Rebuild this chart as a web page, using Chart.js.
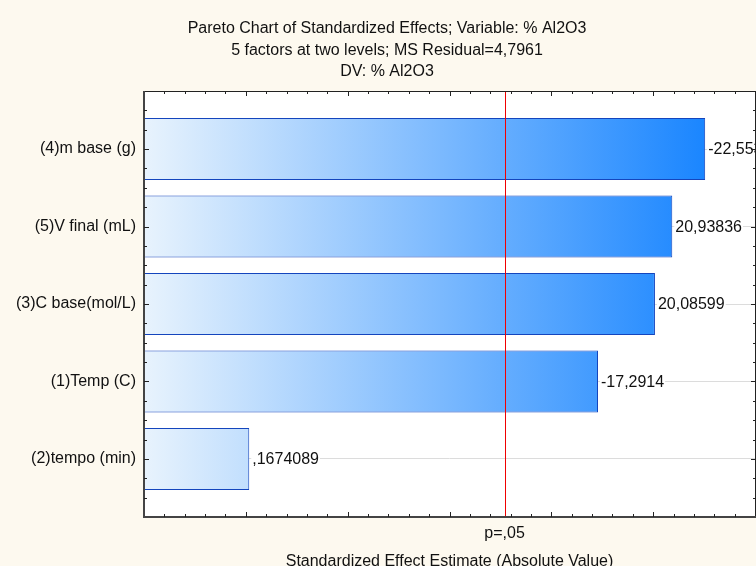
<!DOCTYPE html>
<html>
<head>
<meta charset="utf-8">
<title>Pareto Chart of Standardized Effects</title>
<script src="https://cdn.jsdelivr.net/npm/chart.js@4.4.1/dist/chart.umd.min.js"></script>
<style>
  html, body { margin: 0; padding: 0; background: #fdf9ef; }
  #wrap { width: 756px; height: 566px; }
</style>
</head>
<body>
<div id="wrap"><canvas id="pareto" width="756" height="566"></canvas></div>
<script>
// Pareto of standardized effects (2^5 design, response % Al2O3)
const titleLines = [
  'Pareto Chart of Standardized Effects; Variable: % Al2O3',
  '5 factors at two levels; MS Residual=4,7961',
  'DV: % Al2O3'
];
const factorLabels = ['(4)m base (g)', '(5)V final (mL)', '(3)C base(mol/L)', '(1)Temp (C)', '(2)tempo (min)'];
const effectEstimates = [-22.55376, 20.93836, 20.08599, -17.2914, 0.1674089];
const criticalT = 12.7062;          // t(0.975; df = 1)
const criticalLabel = 'p=,05';
const xAxisTitle = 'Standardized Effect Estimate (Absolute Value)';

const FONT = "'Liberation Sans', Arial, sans-serif";
const X_MIN = -5, X_MAX = 25;
const Y_MIN = -0.75, Y_MAX = factorLabels.length - 0.25;

// Statistica-like number format: 7 significant digits, decimal comma, no leading zero
function fmt(v) {
  let s = String(Number(v.toPrecision(7))).replace('.', ',');
  return s.replace(/^(-?)0,/, '$1,');
}

const paretoDecor = {
  id: 'paretoDecor',
  beforeDraw(chart) {
    const { ctx, chartArea: a } = chart;
    ctx.save();
    ctx.fillStyle = '#fdf9ef';
    ctx.fillRect(0, 0, chart.width, chart.height);
    ctx.fillStyle = '#ffffff';
    ctx.fillRect(a.left, a.top, a.right - a.left, a.bottom - a.top);

    // three-line heading
    ctx.fillStyle = '#111111';
    ctx.font = '16px ' + FONT;
    ctx.textAlign = 'center';
    ctx.textBaseline = 'middle';
    titleLines.forEach((line, i) => ctx.fillText(line, 387, 29 + i * 21.5));
    ctx.restore();
  },
  afterDatasetsDraw(chart) {
    const { ctx, chartArea: a, scales: { x, y } } = chart;
    ctx.save();

    // value labels at the end of each bar
    ctx.font = '16px ' + FONT;
    ctx.textBaseline = 'middle';
    ctx.textAlign = 'left';
    effectEstimates.forEach((v, i) => {
      const px = x.getPixelForValue(Math.abs(v)) + 3;
      const py = y.getPixelForValue(i);
      const txt = fmt(v);
      const w = ctx.measureText(txt).width;
      ctx.fillStyle = '#ffffff';
      ctx.fillRect(px - 1, py - 8, w + 2, 16);
      ctx.fillStyle = '#111111';
      ctx.fillText(txt, px, py + 1);
    });

    // significance threshold
    const cx = Math.round(x.getPixelForValue(criticalT)) + 0.5;
    ctx.strokeStyle = '#f00000';
    ctx.lineWidth = 1;
    ctx.beginPath();
    ctx.moveTo(cx, a.top);
    ctx.lineTo(cx, a.bottom);
    ctx.stroke();

    // frame
    ctx.strokeStyle = '#222222';
    ctx.lineWidth = 1;
    ctx.beginPath();
    ctx.moveTo(a.left, a.top + 0.5);
    ctx.lineTo(a.right + 1, a.top + 0.5);
    ctx.moveTo(a.right + 0.5, a.top);
    ctx.lineTo(a.right + 0.5, a.bottom);
    ctx.stroke();
    ctx.strokeStyle = '#444444';
    ctx.lineWidth = 2;
    ctx.beginPath();
    ctx.moveTo(a.left, a.top);
    ctx.lineTo(a.left, a.bottom + 1);
    ctx.moveTo(a.left - 1, a.bottom);
    ctx.lineTo(a.right + 1, a.bottom);
    ctx.stroke();

    // inner tick marks on all four sides
    ctx.strokeStyle = '#222222';
    ctx.lineWidth = 1;
    ctx.beginPath();
    for (let v = X_MIN + 1; v < X_MAX; v++) {
      const px = Math.round(x.getPixelForValue(v)) + 0.5;
      const len = v % 5 === 0 ? 5 : 3;
      ctx.moveTo(px, a.bottom);
      ctx.lineTo(px, a.bottom - len);
      ctx.moveTo(px, a.top);
      ctx.lineTo(px, a.top + len);
    }
    for (let k = 1; k < (Y_MAX - Y_MIN) * 4; k++) {
      const v = Y_MIN + k * 0.25;
      const py = Math.round(y.getPixelForValue(v)) + 0.5;
      const len = Number.isInteger(v) ? 5 : 3;
      ctx.moveTo(a.left, py);
      ctx.lineTo(a.left + len, py);
      ctx.moveTo(a.right + 1, py);
      ctx.lineTo(a.right + 1 - len, py);
    }
    ctx.stroke();
    ctx.restore();
  }
};

new Chart(document.getElementById('pareto'), {
  type: 'bar',
  data: {
    datasets: [{
      data: effectEstimates.map((v, i) => ({ x: Math.abs(v), y: i })),
      base: X_MIN,
      backgroundColor(context) {
        const area = context.chart.chartArea;
        if (!area) return '#7ab8f8';
        const g = context.chart.ctx.createLinearGradient(area.left, 0, area.right, 0);
        g.addColorStop(0, '#e8f3fd');
        g.addColorStop(1, '#087cff');
        return g;
      },
      borderColor: '#1445bd',
      borderWidth: 1,
      borderSkipped: 'start',
      barPercentage: 0.8,
      categoryPercentage: 1.0
    }]
  },
  options: {
    indexAxis: 'y',
    responsive: false,
    animation: false,
    devicePixelRatio: 1,
    layout: { padding: { left: 0, right: 1, top: 91, bottom: 0 } },
    plugins: {
      legend: { display: false },
      tooltip: { enabled: false },
      title: { display: false }
    },
    scales: {
      x: {
        type: 'linear',
        position: 'bottom',
        min: X_MIN,
        max: X_MAX,
        offset: false,
        afterBuildTicks(scale) { scale.ticks = [{ value: criticalT }]; },
        afterFit(scale) { scale.height = 49; },
        ticks: {
          color: '#111111',
          font: { family: FONT, size: 16 },
          padding: 7,
          maxRotation: 0,
          callback: () => criticalLabel
        },
        grid: { display: false, drawTicks: false, offset: false },
        border: { display: false },
        title: {
          display: true,
          text: xAxisTitle,
          color: '#111111',
          font: { family: FONT, size: 16, lineHeight: 0.5 },
          padding: { top: 0, bottom: 0 }
        }
      },
      y: {
        type: 'linear',
        position: 'left',
        reverse: true,
        offset: false,
        min: Y_MIN,
        max: Y_MAX,
        afterBuildTicks(scale) { scale.ticks = factorLabels.map((_, i) => ({ value: i })); },
        afterFit(scale) { scale.width = 144; },
        ticks: {
          color: '#111111',
          font: { family: FONT, size: 16 },
          padding: 8,
          autoSkip: false,
          callback: (v) => factorLabels[v]
        },
        grid: { color: '#dcdcdc', lineWidth: 1, drawTicks: false, offset: false },
        border: { display: false }
      }
    }
  },
  plugins: [paretoDecor]
});
</script>
</body>
</html>
